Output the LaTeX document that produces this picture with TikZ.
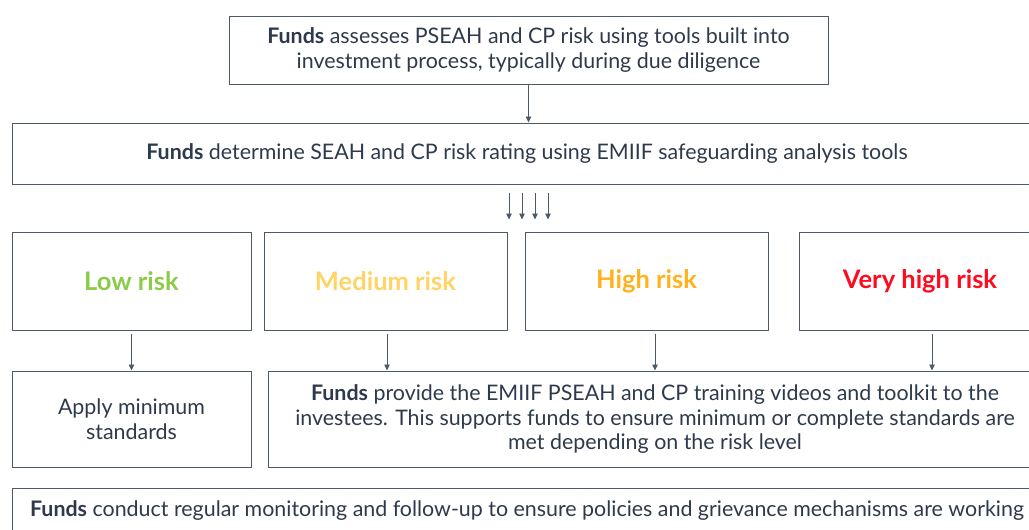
\documentclass[tikz,border=0pt]{standalone}
\usepackage{fontspec}
\setmainfont{Lato}
\usetikzlibrary{arrows.meta}

\definecolor{ink}{HTML}{2E3A4B}
\definecolor{edge}{HTML}{4F5A68}
\definecolor{lowc}{HTML}{8CCB4A}
\definecolor{medc}{HTML}{FFD466}
\definecolor{highc}{HTML}{FFB21C}
\definecolor{vhighc}{HTML}{FF0A1E}

\begin{document}
\begin{tikzpicture}[x=1pt, y=-1pt,
  every node/.style={draw=edge, line width=1pt, align=center, inner sep=0pt, text=ink, font=\fontsize{21.4}{24.8}\selectfont},
  risk/.style={minimum height=98pt, font=\fontsize{25.5}{28}\selectfont\bfseries},
  link/.style={draw=edge, line width=0.8pt, -{Triangle[width=5.5pt,length=6pt]}}]
\useasboundingbox (0,0) rectangle (1029,530);
\clip (0,0) rectangle (1029,530);
% Assessment and rating steps
\node[minimum width=599pt, minimum height=68pt] (assess) at (528.5,50) {\textbf{Funds} assesses PSEAH and CP risk using tools built into\\investment process, typically during due diligence}; % Top
\node[minimum width=1030pt, minimum height=61pt] (rating) at (527,153.5) {\textbf{Funds} determine SEAH and CP risk rating using EMIIF safeguarding analysis tools};
% Risk levels
\node[risk, minimum width=239pt, text=lowc] (low) at (131.5,281) {Low risk};
\node[risk, minimum width=243pt, text=medc] (medium) at (385.5,281) {Medium risk};
\node[risk, minimum width=243pt, text=highc] (high) at (646.5,281) {High risk};
\node[risk, minimum width=242pt, text=vhighc] (vhigh) at (920,281) {Very high risk};
% Responses
\node[minimum width=239pt, minimum height=96pt] (minstd) at (131.5,419) {Apply minimum\\standards};
\node[minimum width=774pt, minimum height=96pt] (toolkit) at (655,419) {\textbf{Funds} provide the EMIIF PSEAH and CP training videos and toolkit to the\\investees. This supports funds to ensure minimum or complete standards are\\met depending on the risk level};
\node[minimum width=1030pt, minimum height=45pt] (monitor) at (527,510.5) {\textbf{Funds} conduct regular monitoring and follow-up to ensure policies and grievance mechanisms are working};
% Edges
\draw[link] (assess.south) -- (assess.south |- rating.north);
\foreach \dx in {-18,-5,8,21}
  \draw[link] ([xshift=\dx pt, yshift=-8pt]rating.south) -- ++(0,27);
\draw[link] ([yshift=-3pt]low.south) -- (low.south |- minstd.north);
\draw[link] ([xshift=1.5pt, yshift=-3pt]medium.south) -- ([xshift=1.5pt]medium.south |- toolkit.north);
\draw[link] ([xshift=8.5pt, yshift=-3pt]high.south) -- ([xshift=8.5pt]high.south |- toolkit.north);
\draw[link] ([xshift=12pt, yshift=-3pt]vhigh.south) -- ([xshift=12pt]vhigh.south |- toolkit.north);
\end{tikzpicture}
\end{document}
